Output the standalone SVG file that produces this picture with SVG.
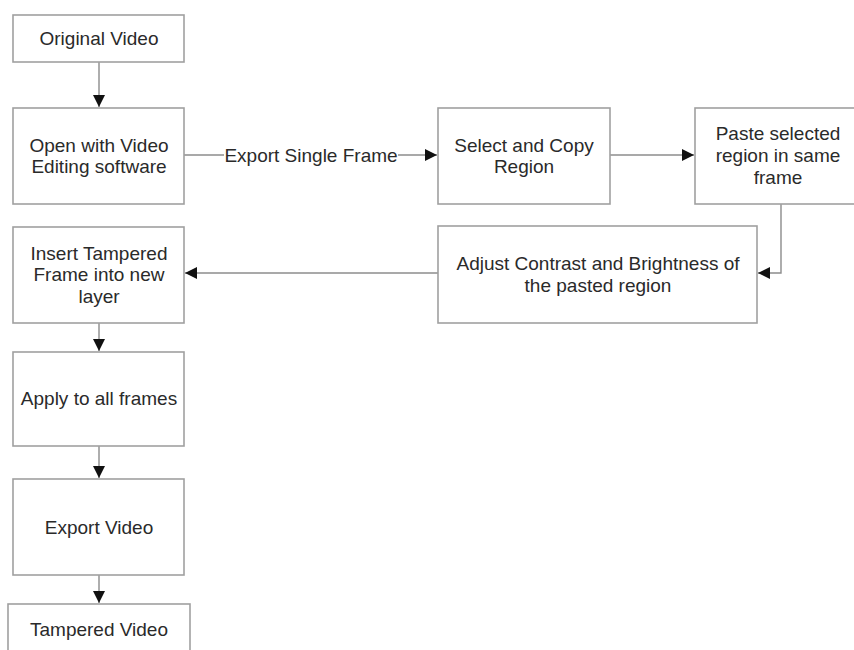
<svg xmlns="http://www.w3.org/2000/svg" width="854" height="650" viewBox="0 0 854 650">
  <style>
    .box { fill: #ffffff; stroke: #a0a0a0; stroke-width: 1.6; }
    .conn { fill: none; stroke: #8c8c8c; stroke-width: 1.4; }
    text { font-family: "Liberation Sans", Arial, sans-serif; font-size: 19px; fill: #2a2a2a; text-anchor: middle; }
  </style>
  <defs>
    <marker id="arrow" viewBox="0 0 12 12" refX="12" refY="6" markerWidth="12" markerHeight="12" markerUnits="userSpaceOnUse" orient="auto">
      <path d="M0,0 L12,6 L0,12 Z" fill="#111111"/>
    </marker>
  </defs>
  <rect width="854" height="650" fill="#ffffff"/>

  <g id="connectors">
    <line class="conn" x1="99" y1="62" x2="99" y2="107" marker-end="url(#arrow)"/>
    <line class="conn" x1="184" y1="155" x2="437" y2="155" marker-end="url(#arrow)"/>
    <rect x="224" y="145" width="174" height="20" fill="#ffffff"/>
    <text x="311" y="162">Export Single Frame</text>
    <line class="conn" x1="610" y1="155" x2="694" y2="155" marker-end="url(#arrow)"/>
    <polyline class="conn" points="781,204 781,273 758,273" marker-end="url(#arrow)"/>
    <line class="conn" x1="438" y1="273" x2="185" y2="273" marker-end="url(#arrow)"/>
    <line class="conn" x1="99" y1="323" x2="99" y2="351" marker-end="url(#arrow)"/>
    <line class="conn" x1="99" y1="446" x2="99" y2="478" marker-end="url(#arrow)"/>
    <line class="conn" x1="99" y1="575" x2="99" y2="603" marker-end="url(#arrow)"/>
  </g>

  <g id="original-video">
    <rect class="box" x="13" y="15" width="171" height="47"/>
    <text x="99" y="45">Original Video</text>
  </g>

  <g id="open-editor">
    <rect class="box" x="13" y="108" width="171" height="96"/>
    <text x="99" y="152">Open with Video</text>
    <text x="99" y="173">Editing software</text>
  </g>

  <g id="select-copy">
    <rect class="box" x="438" y="108" width="172" height="96"/>
    <text x="524" y="152">Select and Copy</text>
    <text x="524" y="173">Region</text>
  </g>

  <g id="paste-region">
    <rect class="box" x="695" y="108" width="170" height="96"/>
    <text x="778" y="140">Paste selected</text>
    <text x="778" y="162">region in same</text>
    <text x="778" y="184">frame</text>
  </g>

  <g id="adjust-contrast">
    <rect class="box" x="438" y="226" width="319" height="97"/>
    <text x="598" y="270">Adjust Contrast and Brightness of</text>
    <text x="598" y="292">the pasted region</text>
  </g>

  <g id="insert-frame">
    <rect class="box" x="13" y="227" width="171" height="96"/>
    <text x="99" y="260">Insert Tampered</text>
    <text x="99" y="281">Frame into new</text>
    <text x="99" y="303">layer</text>
  </g>

  <g id="apply-all">
    <rect class="box" x="13" y="352" width="171" height="94"/>
    <text x="99" y="405">Apply to all frames</text>
  </g>

  <g id="export-video">
    <rect class="box" x="13" y="479" width="171" height="96"/>
    <text x="99" y="534">Export Video</text>
  </g>

  <g id="tampered-video">
    <rect class="box" x="8" y="604" width="182" height="60"/>
    <text x="99" y="636">Tampered Video</text>
  </g>
</svg>
